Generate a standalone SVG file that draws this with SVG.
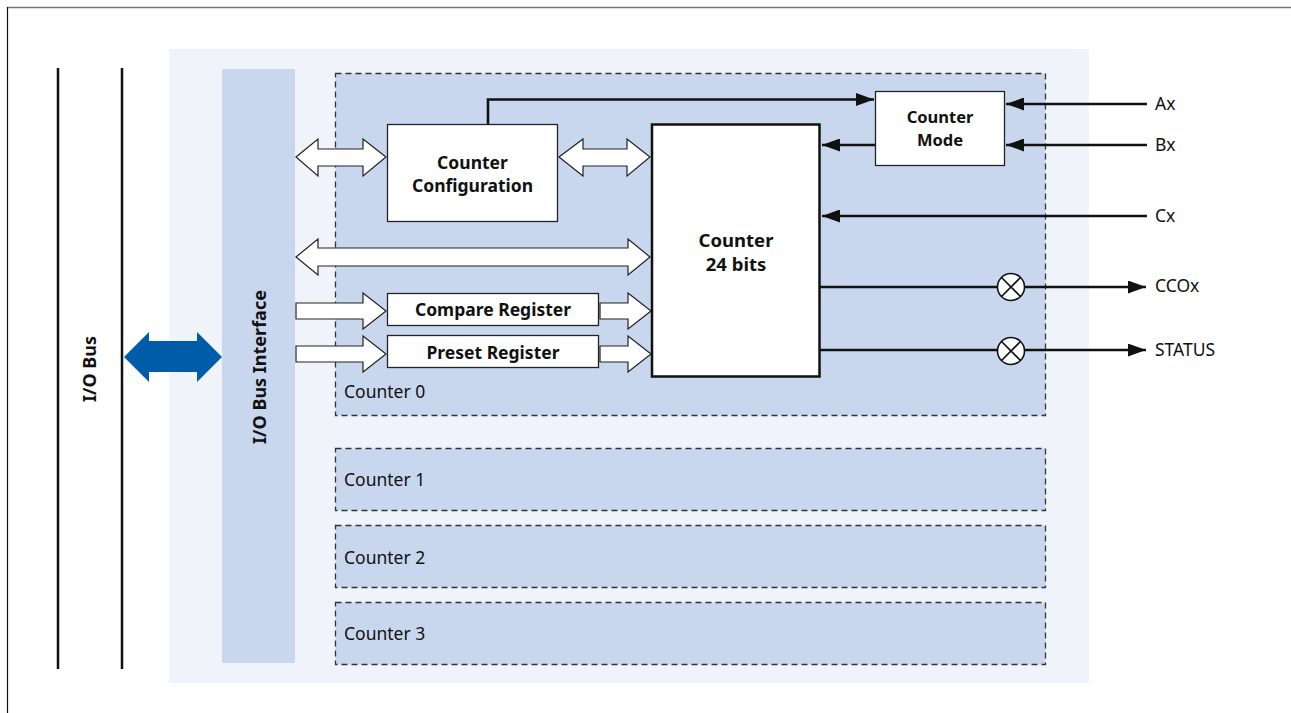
<svg xmlns="http://www.w3.org/2000/svg" width="1291" height="713" viewBox="0 0 1291 713">
<style>
text{font-family:"Noto Sans","Open Sans","Liberation Sans",sans-serif;fill:#111}
.b{font-weight:bold;font-size:17.5px}
.r{font-size:17.5px}
.box{fill:#fff;stroke:#222;stroke-width:1.3}
.dash{fill:#c9d7ee;stroke:#333;stroke-width:1.3;stroke-dasharray:6 4}
.hollow{fill:#fff;stroke:#222;stroke-width:1.2;stroke-linejoin:miter}
.ln{stroke:#111;stroke-width:2.6;fill:none}
</style>
<defs>
<marker id="ah2" markerWidth="18" markerHeight="13" refX="18" refY="6.5" orient="auto" markerUnits="userSpaceOnUse" viewBox="0 0 18 13">
<path d="M0,0 L18,6.5 L0,13 Z" fill="#111"/>
</marker>
</defs>
<rect x="0" y="0" width="1291" height="713" fill="#fff"/>
<line x1="7" y1="7.5" x2="1291" y2="7.5" stroke="#777" stroke-width="1.5"/>
<line x1="7.5" y1="7" x2="7.5" y2="713" stroke="#111" stroke-width="1.2"/>
<rect x="169" y="49" width="920" height="634" fill="#f0f4fa"/>

<g id="io-bus">
<line x1="58" y1="68" x2="58" y2="669" stroke="#111" stroke-width="2.5"/>
<line x1="122" y1="68" x2="122" y2="669" stroke="#111" stroke-width="2.5"/>
<text class="b" style="font-size:18px" transform="translate(96,369) rotate(-90)" text-anchor="middle">I/O Bus</text>
</g>

<g id="io-bus-interface">
<rect x="222" y="69" width="73" height="594" fill="#c9d7ee"/>
<text class="b" style="font-size:18px" transform="translate(266,367) rotate(-90)" text-anchor="middle">I/O Bus Interface</text>
</g>

<g id="counter0">
<rect class="dash" x="335.5" y="73.5" width="710" height="342"/>
<text class="r" x="344" y="398">Counter 0</text>
</g>
<g id="counter1">
<rect class="dash" x="335.5" y="448.5" width="710" height="62"/>
<text class="r" x="344" y="486">Counter 1</text>
</g>
<g id="counter2">
<rect class="dash" x="335.5" y="525.5" width="710" height="62"/>
<text class="r" x="344" y="564">Counter 2</text>
</g>
<g id="counter3">
<rect class="dash" x="335.5" y="602.5" width="710" height="62"/>
<text class="r" x="344" y="640">Counter 3</text>
</g>

<g id="connectors">
<path d="M124,357 L149,332 L149,341 L197,341 L197,332 L222,357 L197,382 L197,372 L149,372 L149,382 Z" fill="#005ca8"/>
<path class="hollow" d="M296,157 L318,139 L318,149 L363,149 L363,139 L386,157 L363,176 L363,166 L318,166 L318,176 Z"/>
<path class="hollow" d="M559,157 L583,139 L583,149 L627,149 L627,139 L650,157 L627,176 L627,166 L583,166 L583,176 Z"/>
<path class="hollow" d="M296,257 L318,239 L318,248 L628,248 L628,239 L650,257 L628,275 L628,266 L318,266 L318,275 Z"/>
<path class="hollow" d="M296,303 L363,303 L363,293 L386,311 L363,329 L363,319 L296,319 Z"/>
<path class="hollow" d="M600,303 L628,303 L628,293 L651,311 L628,329 L628,319 L600,319 Z"/>
<path class="hollow" d="M296,346 L363,346 L363,336 L386,354 L363,372 L363,362 L296,362 Z"/>
<path class="hollow" d="M600,346 L628,346 L628,336 L651,354 L628,372 L628,362 L600,362 Z"/>
<polyline class="ln" points="488,124 488,99.5 874,99.5" marker-end="url(#ah2)"/>
<line class="ln" x1="875" y1="145" x2="822" y2="145" marker-end="url(#ah2)"/>
<line class="ln" x1="1147" y1="104" x2="1006" y2="104" marker-end="url(#ah2)"/>
<line class="ln" x1="1147" y1="145" x2="1006" y2="145" marker-end="url(#ah2)"/>
<line class="ln" x1="1147" y1="216" x2="822" y2="216" marker-end="url(#ah2)"/>
<line class="ln" x1="820" y1="287" x2="997" y2="287"/>
<line class="ln" x1="1025" y1="287" x2="1146" y2="287" marker-end="url(#ah2)"/>
<line class="ln" x1="820" y1="350" x2="997" y2="350"/>
<line class="ln" x1="1025" y1="350" x2="1146" y2="350" marker-end="url(#ah2)"/>
</g>

<g id="mux-ccox">
<circle cx="1011" cy="287" r="13.5" fill="#fff" stroke="#111" stroke-width="1.6"/>
<path d="M1001.5,277.5 L1020.5,296.5 M1020.5,277.5 L1001.5,296.5" stroke="#111" stroke-width="1.6"/>
</g>
<g id="mux-status">
<circle cx="1011" cy="351" r="13.5" fill="#fff" stroke="#111" stroke-width="1.6"/>
<path d="M1001.5,341.5 L1020.5,360.5 M1020.5,341.5 L1001.5,360.5" stroke="#111" stroke-width="1.6"/>
</g>

<g id="counter-configuration">
<rect class="box" x="387.5" y="124.5" width="170" height="97"/>
<text class="b" x="472.5" y="169" text-anchor="middle">Counter</text>
<text class="b" x="472.5" y="192" text-anchor="middle">Configuration</text>
</g>
<g id="compare-register">
<rect class="box" x="387.5" y="293.5" width="211" height="32"/>
<text class="b" x="493" y="316" text-anchor="middle">Compare Register</text>
</g>
<g id="preset-register">
<rect class="box" x="387.5" y="335.5" width="211" height="32"/>
<text class="b" x="493" y="358.5" text-anchor="middle">Preset Register</text>
</g>
<g id="counter-24">
<rect x="652" y="124.5" width="167.5" height="252" fill="#fff" stroke="#111" stroke-width="2.5"/>
<text class="b" style="font-size:18.5px" x="736" y="247" text-anchor="middle">Counter</text>
<text class="b" style="font-size:18.5px" x="736" y="271" text-anchor="middle">24 bits</text>
</g>
<g id="counter-mode">
<rect class="box" x="875.5" y="91.5" width="129" height="74"/>
<text class="b" style="font-size:16.5px" x="940" y="123" text-anchor="middle">Counter</text>
<text class="b" style="font-size:16.5px" x="940" y="145.5" text-anchor="middle">Mode</text>
</g>

<g id="labels">
<text class="r" x="1155" y="110">Ax</text>
<text class="r" x="1155" y="151">Bx</text>
<text class="r" x="1155" y="222">Cx</text>
<text class="r" x="1155" y="292">CCOx</text>
<text class="r" x="1155" y="356">STATUS</text>
</g>
</svg>
